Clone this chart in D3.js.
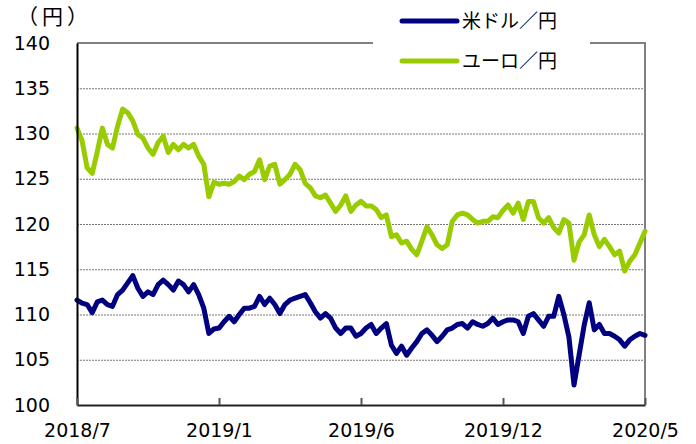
<!DOCTYPE html>
<html>
<head>
<meta charset="utf-8">
<script src="https://cdn.jsdelivr.net/npm/d3@7"></script>
<style>
  body { margin: 0; background: #fff; }
  svg text { fill: #000; }
  .num { font-family: "DejaVu Sans", sans-serif; font-size: 19px; }
  .jp { font-family: "Noto Sans CJK JP", sans-serif; }
</style>
</head>
<body>
<svg width="696" height="444"></svg>
<script>
// weekly-ish samples
const usd = [
  111.6, 111.25, 111.1, 110.2, 111.4, 111.6, 111.1, 110.9, 112.2, 112.7,
  113.5, 114.3, 112.9, 112.0, 112.5, 112.2, 113.3, 113.8, 113.3, 112.7,
  113.7, 113.3, 112.5, 113.3, 112.2, 110.7, 107.9, 108.4, 108.5, 109.2,
  109.8, 109.2, 110.0, 110.7, 110.7, 110.9, 112.0, 111.1, 111.8, 111.1,
  110.1, 111.1, 111.6, 111.8, 112.0, 112.2, 111.3, 110.3, 109.6, 110.1,
  109.6, 108.5, 107.9, 108.5, 108.5, 107.6, 107.9, 108.5, 108.9, 107.9,
  108.5, 109.0, 106.6, 105.7, 106.5, 105.5, 106.3, 107.0, 107.9, 108.3,
  107.7, 107.0, 107.6, 108.3, 108.5, 108.9, 109.0, 108.5, 109.2, 108.9,
  108.7, 109.0, 109.6, 108.9, 109.2, 109.4, 109.4, 109.2, 107.9, 109.8,
  110.1, 109.4, 108.7, 109.8, 109.8, 112.0, 110.0, 107.5, 102.2, 105.5,
  108.8, 111.3, 108.3, 108.9, 107.9, 107.9, 107.6, 107.2, 106.5, 107.2,
  107.6, 107.9, 107.7
];
const eur = [
  130.6, 129.2, 126.2, 125.6, 128.0, 130.6, 128.8, 128.4, 130.8, 132.7,
  132.3, 131.4, 129.9, 129.5, 128.4, 127.7, 129.0, 129.7, 127.9, 128.8,
  128.2, 128.8, 128.4, 128.8, 127.5, 126.6, 123.0, 124.6, 124.4, 124.5,
  124.4, 124.7, 125.3, 124.9, 125.5, 125.8, 127.1, 124.9, 126.4, 126.6,
  124.4, 124.9, 125.5, 126.6, 126.0, 124.5, 124.0, 123.1, 122.9, 123.2,
  122.3, 121.4, 122.1, 123.1, 121.4, 122.1, 122.5, 122.0, 122.0, 121.6,
  120.7, 121.0, 118.6, 118.8, 117.9, 118.1, 117.2, 116.6, 118.1, 119.7,
  118.8, 117.7, 117.3, 117.7, 120.3, 121.0, 121.2, 121.0, 120.5, 120.1,
  120.3, 120.3, 120.8, 120.7, 121.5, 122.1, 121.2, 122.3, 120.5, 122.5,
  122.5, 120.7, 120.1, 120.7, 119.6, 119.0, 120.5, 120.1, 116.0, 118.0,
  118.8, 121.0, 118.8, 117.5, 118.3, 117.5, 116.6, 117.0, 114.8, 115.9,
  116.6, 117.9, 119.2
];
const tickIdx = [0, 28, 56, 84, 112];
const tickLabels = ["2018/7", "2019/1", "2019/6", "2019/12", "2020/5"];
const yTicks = [100, 105, 110, 115, 120, 125, 130, 135, 140];
const seriesNames = ["米ドル／円", "ユーロ／円"];
const colors = ["#000080", "#99cc00"];

const margin = { top: 43, right: 51, bottom: 39, left: 77 };
const width = 696 - margin.left - margin.right;
const height = 444 - margin.top - margin.bottom;

const svg = d3.select("svg");
const g = svg.append("g").attr("transform", `translate(${margin.left},${margin.top})`);

const x = d3.scaleLinear().domain([0, usd.length - 1]).range([0, width]);
const y = d3.scaleLinear().domain([100, 140]).range([height, 0]);

// gridlines
g.append("g")
  .call(d3.axisLeft(y).tickValues(yTicks.filter(v => v > 100 && v < 140)).tickSize(-width).tickFormat(""))
  .call(s => s.select(".domain").remove())
  .call(s => s.selectAll("line").attr("stroke", "#777").attr("stroke-dasharray", "2,1"));

// frame: top and right in gray
g.append("path")
  .attr("d", `M0,0H${width}V${height}`)
  .attr("fill", "none").attr("stroke", "#808080").attr("stroke-width", 2);

// series
const line = d3.line().x((d, i) => x(i)).y(d => y(d));
[usd, eur].forEach((data, k) => {
  g.append("path")
    .datum(data)
    .attr("fill", "none")
    .attr("stroke", colors[k])
    .attr("stroke-width", 5)
    .attr("stroke-linejoin", "round")
    .attr("stroke-linecap", "round")
    .attr("d", line);
});

// y axis
g.append("g")
  .call(d3.axisLeft(y).tickValues(yTicks).tickSize(0).tickPadding(27))
  .call(s => s.select(".domain").attr("stroke", "#000").attr("stroke-width", 2))
  .call(s => s.selectAll("text").attr("class", "num").attr("fill", "#000").attr("font-size", null).attr("font-family", null));

// x axis
g.append("g")
  .attr("transform", `translate(0,${height})`)
  .call(d3.axisBottom(x).tickValues(tickIdx).tickFormat((d, i) => tickLabels[i])
    .tickSizeInner(-7).tickSizeOuter(0).tickPadding(19))
  .call(s => s.select(".domain").attr("stroke", "#222").attr("stroke-width", 2))
  .call(s => s.selectAll("line").attr("stroke", "#555").attr("stroke-width", 2))
  .call(s => s.selectAll("text").attr("class", "num").attr("fill", "#000").attr("font-size", null).attr("font-family", null));

// unit label
svg.append("text").attr("class", "jp").attr("x", 17).attr("y", 24)
  .attr("font-size", 21).attr("letter-spacing", 4).text("（円）");

// legend, sitting over the top border
svg.append("rect").attr("x", 373).attr("y", 38).attr("width", 217).attr("height", 10).attr("fill", "#fff");
const legend = svg.append("g");
seriesNames.forEach((name, k) => {
  const ly = 21 + k * 40;
  legend.append("line")
    .attr("x1", 402).attr("x2", 457).attr("y1", ly).attr("y2", ly)
    .attr("stroke", colors[k]).attr("stroke-width", 5).attr("stroke-linecap", "round");
  legend.append("text").attr("class", "jp")
    .attr("x", 462).attr("y", ly).attr("dy", "0.36em")
    .attr("font-size", 19).text(name);
});
</script>
</body>
</html>
